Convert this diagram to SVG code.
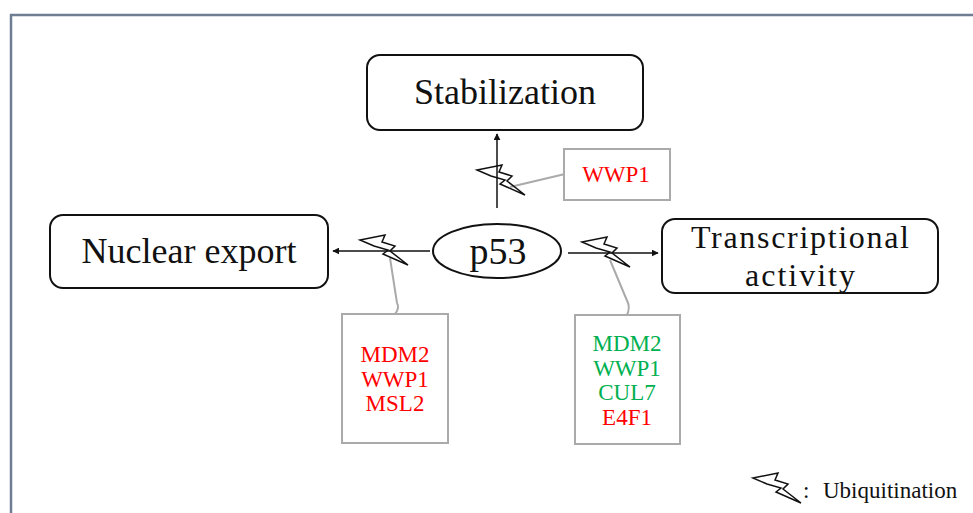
<svg xmlns="http://www.w3.org/2000/svg" xmlns:xlink="http://www.w3.org/1999/xlink" width="973" height="513" viewBox="0 0 973 513">
<style>
.box{fill:#fff;stroke:#111;stroke-width:2}
.lab{font-family:"Liberation Serif","Times New Roman",serif;fill:#111;text-anchor:middle}
.note{fill:#fff;stroke:#aaa;stroke-width:2}
.gene{font-family:"Liberation Serif","Times New Roman",serif;font-size:23px;text-anchor:middle}
.red{fill:#ff0000}
.green{fill:#00b050}
.arr{stroke:#111;stroke-width:1.5;fill:none}
.lead{stroke:#aaa;stroke-width:2;fill:none}
.bolt{fill:none;stroke:#111;stroke-width:1.5;stroke-linejoin:miter}
</style>
<defs>
<marker id="ah" viewBox="0 0 10 10" refX="9" refY="5" markerWidth="7" markerHeight="7" markerUnits="userSpaceOnUse" orient="auto">
<path d="M0,0 L10,5 L0,10 Z" fill="#111"/>
</marker>
<symbol id="bolt" overflow="visible">
<path class="bolt" d="M-24,-11 L1,-16 L-2,-9 L11,-5 L6,0 L24,14 L-1,3 L4,-1 L-10,-5 Z"/>
</symbol>
</defs>
<rect width="973" height="513" fill="#fff"/>
<path d="M11,515 L11,15 L975,15" fill="none" stroke="#6e7d92" stroke-width="2.5"/>

<g id="connectors">
<line class="arr" x1="497" y1="208" x2="497" y2="134" marker-end="url(#ah)"/>
<line class="arr" x1="430" y1="251" x2="333" y2="251" marker-end="url(#ah)"/>
<line class="arr" x1="568" y1="253" x2="658" y2="253" marker-end="url(#ah)"/>
<path class="lead" d="M565,174 L510,187"/>
<path class="lead" d="M390,258 L397,303 Q400,308 395,314"/>
<path class="lead" d="M610,260 L628,303 Q630,308 627,315"/>
</g>

<g id="bolts">
<use xlink:href="#bolt" x="501" y="181"/>
<use xlink:href="#bolt" x="384" y="251"/>
<use xlink:href="#bolt" x="606" y="253"/>
</g>

<g id="stabilization">
<rect class="box" x="367" y="55" width="276" height="75" rx="13"/>
<text class="lab" x="505" y="104" font-size="36">Stabilization</text>
</g>

<g id="nuclear-export">
<rect class="box" x="50" y="215" width="278" height="73" rx="13"/>
<text class="lab" x="189" y="263" font-size="36">Nuclear export</text>
</g>

<g id="transcriptional-activity">
<rect class="box" x="662" y="219" width="276" height="74" rx="13"/>
<text class="lab" x="800" y="248" font-size="32" textLength="218" lengthAdjust="spacing">Transcriptional</text>
<text class="lab" x="800" y="286" font-size="32" textLength="110" lengthAdjust="spacing">activity</text>
</g>

<g id="p53">
<ellipse cx="497" cy="251" rx="64" ry="27" fill="#fff" stroke="#111" stroke-width="2"/>
<text class="lab" x="498" y="264" font-size="38">p53</text>
</g>

<g id="wwp1-note">
<rect class="note" x="564" y="149" width="106" height="51"/>
<text class="gene red" x="616" y="182">WWP1</text>
</g>

<g id="export-note">
<rect class="note" x="342" y="314" width="106" height="129"/>
<text class="gene red" x="395" y="362">MDM2</text>
<text class="gene red" x="395" y="387">WWP1</text>
<text class="gene red" x="395" y="411">MSL2</text>
</g>

<g id="transcription-note">
<rect class="note" x="575" y="315" width="105" height="129"/>
<text class="gene green" x="627" y="351">MDM2</text>
<text class="gene green" x="627" y="376">WWP1</text>
<text class="gene green" x="627" y="400">CUL7</text>
<text class="gene red" x="627" y="425">E4F1</text>
</g>

<g id="legend">
<use xlink:href="#bolt" x="777" y="489"/>
<text x="803" y="498" font-family="Liberation Serif,'Times New Roman',serif" font-size="23" fill="#111">:</text>
<text x="823" y="498" font-family="Liberation Serif,'Times New Roman',serif" font-size="23" fill="#111">Ubiquitination</text>
</g>
</svg>
